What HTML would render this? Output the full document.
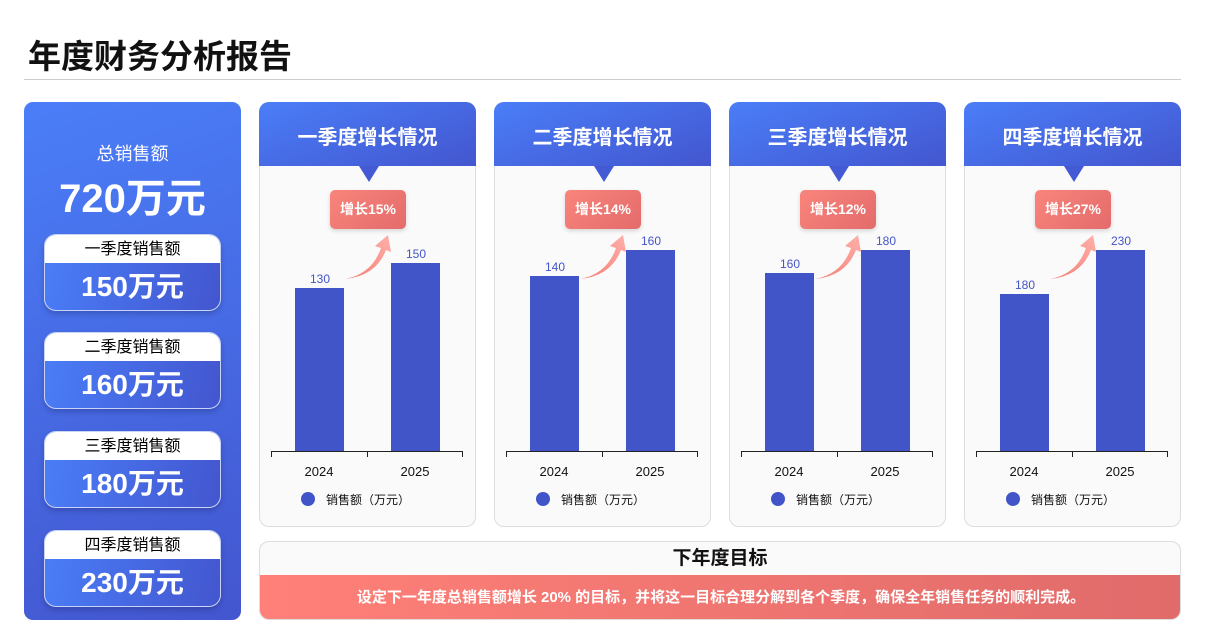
<!DOCTYPE html><html><head><meta charset="utf-8"><style>
*{margin:0;padding:0;box-sizing:border-box}
body{width:1205px;height:644px;background:#fff;font-family:"Liberation Sans","Noto Sans CJK SC",sans-serif;position:relative;overflow:hidden}
.a{position:absolute}
.title{left:28px;top:30px;font-size:33px;font-weight:bold;color:#111}
.hr{left:24px;top:79px;width:1157px;height:1px;background:#ccc}
.left{left:24px;top:102px;width:217px;height:518px;border-radius:9px;background:linear-gradient(160deg,#4a7ef8,#4356cf)}
.card{left:20px;width:177px;height:77px;border-radius:12px;overflow:hidden;border:1px solid #c9d3f6;background:linear-gradient(100deg,#4a7ef8,#4356cf);box-shadow:0 3px 6px rgba(0,0,40,.2)}
.card .t{height:28px;background:#fff;text-align:center;font-size:16px;line-height:30px;color:#000}
.card .v{text-align:center;color:#fff;font-weight:bold;font-size:28px;line-height:48px}
.q{top:102px;width:217px;height:425px;border-radius:10px;border:1px solid #ddd;background:#fafafa;overflow:visible}
.qh{left:-1px;top:-1px;width:217px;height:64px;border-radius:10px 10px 0 0;background:linear-gradient(160deg,#4a7ef8,#4356cf);color:#fff;font-weight:bold;font-size:20px;text-align:center;line-height:72px}
.tri{left:99px;top:63px;width:0;height:0;border-left:10px solid transparent;border-right:10px solid transparent;border-top:16px solid #4459d4}
.badge{left:70px;top:87px;width:76px;height:39px;border-radius:5px;background:linear-gradient(135deg,#f8857c,#e46b6b);color:#fff;font-weight:bold;font-size:14px;text-align:center;line-height:39px;box-shadow:0 2px 4px rgba(0,0,0,.15)}
.bar{width:49px;background:#4155c8}
.lb{width:60px;text-align:center;color:#4455c8;font-size:12px}
</style></head><body>
<div class="a title">年度财务分析报告</div>
<div class="a hr"></div>
<div class="a left">
<div class="a" style="left:0;width:217px;top:38px;text-align:center;color:#fff;font-size:18px">总销售额</div>
<div class="a" style="left:0;width:217px;top:64px;text-align:center;color:#fff;font-size:40px;font-weight:bold">720万元</div>
<div class="a card" style="top:132px"><div class="t">一季度销售额</div><div class="v">150万元</div></div>
<div class="a card" style="top:230px"><div class="t">二季度销售额</div><div class="v">160万元</div></div>
<div class="a card" style="top:329px"><div class="t">三季度销售额</div><div class="v">180万元</div></div>
<div class="a card" style="top:428px"><div class="t">四季度销售额</div><div class="v">230万元</div></div>
</div>
<svg width="0" height="0" style="position:absolute"><defs><linearGradient id="ag" x1="0" y1="1" x2="1" y2="0"><stop offset="0" stop-color="#f37d74"/><stop offset="1" stop-color="#ffb0aa"/></linearGradient></defs></svg>
<div class="a q" style="left:259px">
<div class="a qh">一季度增长情况</div><div class="a tri"></div><div class="a badge">增长15%</div>
<div class="a bar" style="left:35px;top:185px;height:164px"></div><div class="a bar" style="left:131px;top:160px;height:189px"></div>
<div class="a lb" style="left:30px;top:169px">130</div><div class="a lb" style="left:126px;top:144px">150</div>
</div>
<div class="a q" style="left:494px">
<div class="a qh">二季度增长情况</div><div class="a tri"></div><div class="a badge">增长14%</div>
<div class="a bar" style="left:35px;top:173px;height:176px"></div><div class="a bar" style="left:131px;top:147px;height:202px"></div>
<div class="a lb" style="left:30px;top:157px">140</div><div class="a lb" style="left:126px;top:131px">160</div>
</div>
<div class="a q" style="left:729px">
<div class="a qh">三季度增长情况</div><div class="a tri"></div><div class="a badge">增长12%</div>
<div class="a bar" style="left:35px;top:170px;height:179px"></div><div class="a bar" style="left:131px;top:147px;height:202px"></div>
<div class="a lb" style="left:30px;top:154px">160</div><div class="a lb" style="left:126px;top:131px">180</div>
</div>
<div class="a q" style="left:964px">
<div class="a qh">四季度增长情况</div><div class="a tri"></div><div class="a badge">增长27%</div>
<div class="a bar" style="left:35px;top:191px;height:158px"></div><div class="a bar" style="left:131px;top:147px;height:202px"></div>
<div class="a lb" style="left:30px;top:175px">180</div><div class="a lb" style="left:126px;top:131px">230</div>
</div>
<svg class="a" style="left:0;top:0" width="1205" height="644">
<g id="ax">
<line x1="271" y1="451.5" x2="463" y2="451.5" stroke="#222"/>
<line x1="271.5" y1="451" x2="271.5" y2="457" stroke="#222"/><line x1="367.5" y1="451" x2="367.5" y2="457" stroke="#222"/><line x1="462.5" y1="451" x2="462.5" y2="457" stroke="#222"/>
<text x="319" y="476" font-size="13" text-anchor="middle" fill="#111" font-family="Liberation Sans">2024</text>
<text x="415" y="476" font-size="13" text-anchor="middle" fill="#111" font-family="Liberation Sans">2025</text>
<circle cx="308" cy="499" r="7" fill="#4155c8"/>
<text x="326" y="504" font-size="12" fill="#111" font-family="Liberation Sans,Noto Sans CJK SC">销售额（万元）</text>
<path d="M345 279 Q372 274 381 248 L375 246 L388 235 L391 252 L386 250 Q376 276 345 279 Z" fill="url(#ag)"/>
</g>
<use href="#ax" x="235"/><use href="#ax" x="470"/><use href="#ax" x="705"/>
</svg>
<div class="a" style="left:259px;top:541px;width:922px;height:79px;border:1px solid #ddd;border-radius:10px;background:#fafafa;overflow:hidden">
<div style="text-align:center;font-size:19px;font-weight:bold;line-height:34px;color:#111">下年度目标</div>
<div class="a" style="left:0;top:33px;width:922px;height:46px;background:linear-gradient(90deg,#ff8078,#e06b6a);color:#fff;font-weight:bold;font-size:15px;text-align:center;line-height:46px">设定下一年度总销售额增长 20% 的目标，并将这一目标合理分解到各个季度，确保全年销售任务的顺利完成。</div>
</div>
</body></html>
